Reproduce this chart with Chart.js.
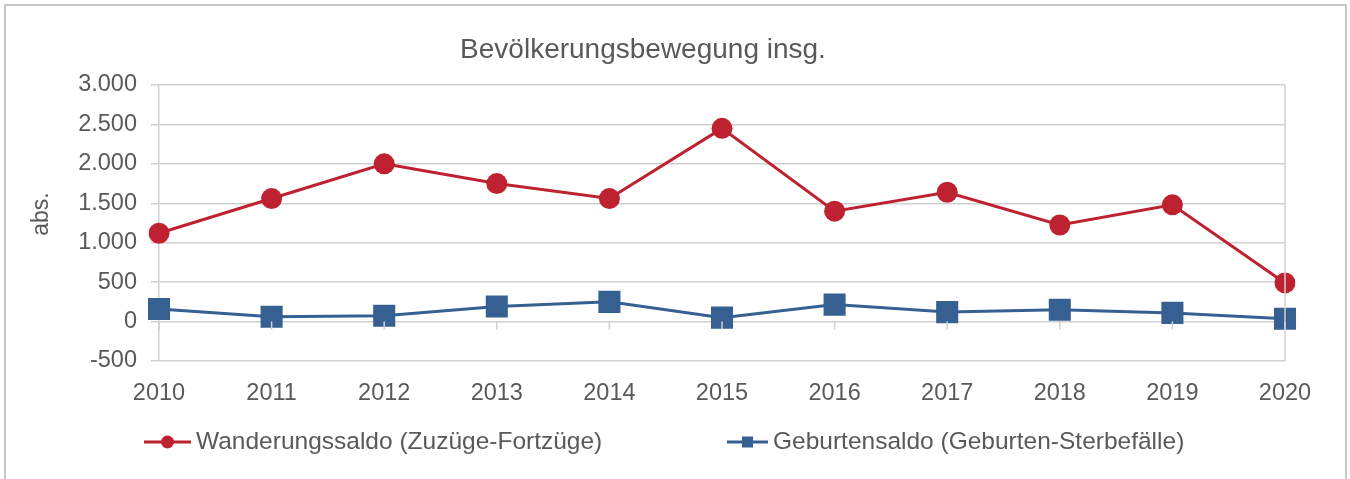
<!DOCTYPE html>
<html lang="de">
<head>
    <meta charset="UTF-8">
    <title>Bevölkerungsbewegung insg.</title>
    <script src="https://cdn.jsdelivr.net/npm/chart.js@4/dist/chart.umd.min.js"></script>
    <style>
        html, body { margin: 0; padding: 0; background: #fff; }
        #wrap { position: absolute; left: 0; top: 0; width: 1350px; height: 479px; }
    </style>
</head>
<body>
    <div id="wrap">
        <canvas id="chart" width="1350" height="479"></canvas>
    </div>

    <script>
        // data
        const years = ['2010', '2011', '2012', '2013', '2014', '2015', '2016', '2017', '2018', '2019', '2020'];
        const wanderungssaldo = [1120, 1560, 2000, 1750, 1560, 2450, 1400, 1640, 1225, 1480, 490];
        const geburtensaldo = [160, 60, 75, 190, 250, 50, 215, 120, 150, 110, 35];
        const yTicks = [-500, 0, 500, 1000, 1500, 2000, 2500, 3000];

        const chartTitle = 'Bevölkerungsbewegung insg.';
        const yTitle = 'abs.';
        const seriesNames = ['Wanderungssaldo (Zuzüge-Fortzüge)', 'Geburtensaldo (Geburten-Sterbefälle)'];

        const RED = '#be2230';
        const BLUE = '#366092';
        const TEXT = '#595959';
        const GRID = '#d0d0d0';
        const FONT = '"Liberation Sans", Arial, sans-serif';

        function fmt(v) {
            const s = String(Math.abs(v)).replace(/\B(?=(\d{3})+(?!\d))/g, '.');
            return v < 0 ? '-' + s : s;
        }

        // frame, title, axis title, category tick marks, right border and legend
        const decorations = {
            id: 'decorations',
            beforeDraw(chart) {
                const c = chart.ctx;
                c.save();
                c.strokeStyle = '#c8c8c8';
                c.lineWidth = 2;
                c.strokeRect(5, 5, 1341, 500);
                c.restore();
            },
            afterDraw(chart) {
                const c = chart.ctx;
                const x = chart.scales.x, y = chart.scales.y;
                const area = chart.chartArea;
                c.save();

                // title
                c.fillStyle = TEXT;
                c.font = '28px ' + FONT;
                c.textAlign = 'center';
                c.textBaseline = 'middle';
                c.fillText(chartTitle, 643, 50);

                // y axis title
                c.save();
                c.translate(42, 214);
                c.rotate(-Math.PI / 2);
                c.font = '23px ' + FONT;
                c.fillText(yTitle, 0, 0);
                c.restore();

                // plot area right border
                c.strokeStyle = GRID;
                c.lineWidth = 1.5;
                c.beginPath();
                c.moveTo(area.right, area.top);
                c.lineTo(area.right, area.bottom);
                c.stroke();

                // category tick marks on the zero line
                const y0 = y.getPixelForValue(0);
                c.beginPath();
                years.forEach((_, i) => {
                    const px = x.getPixelForValue(i);
                    c.moveTo(px, y0);
                    c.lineTo(px, y0 + 8);
                });
                c.stroke();

                // legend
                const items = [
                    { color: RED, style: 'circle', x0: 144, x1: 191, tx: 196, label: seriesNames[0] },
                    { color: BLUE, style: 'rect', x0: 727, x1: 768, tx: 773, label: seriesNames[1] }
                ];
                const ly = 442;
                c.font = '24.5px ' + FONT;
                c.textAlign = 'left';
                items.forEach(it => {
                    c.strokeStyle = it.color;
                    c.fillStyle = it.color;
                    c.lineWidth = 3;
                    c.beginPath();
                    c.moveTo(it.x0, ly);
                    c.lineTo(it.x1, ly);
                    c.stroke();
                    const mx = (it.x0 + it.x1) / 2;
                    c.beginPath();
                    if (it.style === 'circle') {
                        c.arc(mx, ly, 6.5, 0, Math.PI * 2);
                    } else {
                        c.rect(mx - 5.5, ly - 5.5, 11, 11);
                    }
                    c.fill();
                    c.fillStyle = TEXT;
                    c.fillText(it.label, it.tx, ly);
                });
                c.restore();
            }
        };

        const ctx = document.getElementById('chart').getContext('2d');
        const chart = new Chart(ctx, {
            type: 'line',
            data: {
                labels: years,
                datasets: [
                    {
                        label: seriesNames[0],
                        data: wanderungssaldo,
                        borderColor: RED,
                        backgroundColor: RED,
                        borderWidth: 3,
                        pointStyle: 'circle',
                        pointRadius: 10.5,
                        pointBorderWidth: 0,
                        tension: 0,
                        fill: false
                    },
                    {
                        label: seriesNames[1],
                        data: geburtensaldo,
                        borderColor: BLUE,
                        backgroundColor: BLUE,
                        borderWidth: 3,
                        pointStyle: 'rect',
                        pointRadius: 15.6,
                        pointBorderWidth: 0,
                        tension: 0,
                        fill: false
                    }
                ]
            },
            options: {
                responsive: false,
                animation: false,
                devicePixelRatio: 1,
                layout: { padding: { top: 85, right: 65, bottom: 0, left: 0 } },
                plugins: {
                    legend: { display: false },
                    title: { display: false },
                    tooltip: { enabled: false }
                },
                scales: {
                    x: {
                        offset: false,
                        grid: { display: false },
                        border: { display: false },
                        ticks: {
                            color: TEXT,
                            font: { family: FONT, size: 23.5 },
                            padding: 10,
                            maxRotation: 0,
                            autoSkip: false
                        },
                        afterFit(scale) { scale.height = 118; }
                    },
                    y: {
                        min: -500,
                        max: 3000,
                        afterBuildTicks(scale) {
                            scale.ticks = yTicks.map(v => ({ value: v }));
                        },
                        grid: {
                            color: GRID,
                            lineWidth: 1.5,
                            tickLength: 8,
                            drawTicks: true
                        },
                        border: { display: true, color: GRID, width: 1.5 },
                        ticks: {
                            color: TEXT,
                            font: { family: FONT, size: 23.5 },
                            padding: 14,
                            callback: v => fmt(v)
                        },
                        afterFit(scale) { scale.width = 159; }
                    }
                }
            },
            plugins: [decorations]
        });
    </script>
</body>
</html>
